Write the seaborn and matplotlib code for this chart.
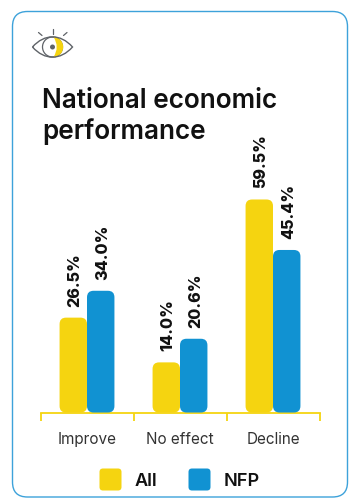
import matplotlib
matplotlib.use("Agg")
import matplotlib.pyplot as plt
from matplotlib.patches import FancyBboxPatch, Circle, PathPatch
from matplotlib.path import Path
import pandas as pd
import seaborn as sns

categories = ["Improve", "No effect", "Decline"]
all_values = [26.5, 14.0, 59.5]
nfp_values = [34.0, 20.6, 45.4]
series_names = ["All", "NFP"]
title_lines = ["National economic", "performance"]

YELLOW = "#F5D410"
BLUE = "#1192D2"
BORDER = "#3DA2DA"
INK = "#111111"
GREY = "#5F6368"
FONT = "Inter"
W, H = 352, 498

sns.set_theme(style="white")
plt.rcParams["font.family"] = [FONT, "DejaVu Sans"]

fig = plt.figure(figsize=(W / 100, H / 100), dpi=100, facecolor="white")

# Overlay in pixel units for the card, icon, title and key
bg = fig.add_axes([0, 0, 1, 1], zorder=0)
bg.set_xlim(0, W)
bg.set_ylim(H, 0)
bg.axis("off")

bg.add_patch(FancyBboxPatch((12.5, 11.5), 335, 485.5,
                            boxstyle="round,pad=0,rounding_size=15",
                            fc="white", ec=BORDER, lw=1.0))

# Eye icon
cx, cy = 52.5, 47.0
almond = Path([(cx - 20, cy), (cx - 8, cy - 13.5), (cx + 8, cy - 13.5), (cx + 20, cy),
               (cx + 8, cy + 13.5), (cx - 8, cy + 13.5), (cx - 20, cy)],
              [Path.MOVETO, Path.CURVE4, Path.CURVE4, Path.CURVE4,
               Path.CURVE4, Path.CURVE4, Path.CURVE4])
bg.add_patch(PathPatch(almond, fc="none", ec=GREY, lw=1.0, zorder=5))
bg.add_patch(Circle((cx, cy), 10, fc="white", ec=GREY, lw=0.9, zorder=2))
moon = Path([(cx + 1, cy - 10), (cx + 14, cy - 9), (cx + 14, cy + 9), (cx + 1, cy + 10),
             (cx + 7.5, cy), (cx + 1, cy - 10)],
            [Path.MOVETO, Path.CURVE4, Path.CURVE4, Path.CURVE4,
             Path.CURVE3, Path.CURVE3])
bg.add_patch(PathPatch(moon, fc=YELLOW, ec="none", zorder=3))
bg.add_patch(Circle((cx, cy), 2.5, fc=GREY, ec="none", zorder=4))
for x0, y0, x1, y1 in [(38.5, 32.5, 42, 35.5), (52.5, 29, 52.5, 34), (67, 32.5, 63.5, 35.5)]:
    bg.plot([x0, x1], [y0, y1], color=GREY, lw=0.9, solid_capstyle="round")

for line, baseline in zip(title_lines, [107.5, 138.5]):
    bg.text(42, baseline, line, fontsize=18.8, fontweight="semibold",
            color=INK, ha="left", va="baseline")

# Key
for x0, colour, name, tx in zip([99.5, 188.5], [YELLOW, BLUE], series_names, [135, 224]):
    bg.add_patch(FancyBboxPatch((x0, 468.5), 22, 22, boxstyle="round,pad=0,rounding_size=3.5",
                                fc=colour, ec="none"))
    bg.text(tx, 485.5, name, fontsize=13, fontweight="semibold", color=INK,
            ha="left", va="baseline")

# Chart area: baseline at y=412.5 px, one percentage point = 3.58 px
x_left, x_right, base_px, top_px = 40.5, 319.5, 412.5, 150.0
px_per_unit = 3.58
ax = fig.add_axes([x_left / W, 1 - base_px / H, (x_right - x_left) / W, (base_px - top_px) / H],
                  zorder=1)
ax.patch.set_alpha(0)

frame = pd.DataFrame({
    "category": categories * 2,
    "series": [series_names[0]] * 3 + [series_names[1]] * 3,
    "value": all_values + nfp_values,
})
sns.barplot(data=frame, x="category", y="value", hue="series", order=categories,
            hue_order=series_names, palette=[YELLOW, BLUE], width=0.59, gap=0,
            saturation=1, legend=False, ax=ax, errorbar=None)
ax.set_xlim(-0.5, 2.5)
ax.set_ylim(0, (base_px - top_px) / px_per_unit)

# Swap the square bars for rounded ones of the same geometry, then label them
px_per_cat = (x_right - x_left) / 3
aspect = px_per_cat / px_per_unit
for bar in list(ax.patches):
    x, w, h = bar.get_x(), bar.get_width(), bar.get_height()
    colour = bar.get_facecolor()
    bar.set_visible(False)
    ax.add_patch(FancyBboxPatch((x, 0), w, h, boxstyle=f"round,pad=0,rounding_size={6.5 / px_per_cat}",
                                mutation_aspect=aspect, fc=colour, ec="none", clip_on=False, zorder=3))
    ax.annotate(f"{h:.1f}%", (x + w / 2, h), xytext=(1.2, 8), textcoords="offset points",
                rotation=90, ha="center", va="bottom", fontsize=11.6, fontweight="heavy",
                color=INK, annotation_clip=False)

sns.despine(ax=ax, left=True)
ax.spines["bottom"].set_color(YELLOW)
ax.spines["bottom"].set_linewidth(1.3)
ax.set_xlabel("")
ax.set_ylabel("")
ax.set_yticks([])
ax.set_xticks([-0.5, 0.5, 1.5, 2.5], minor=True)
ax.tick_params(axis="x", which="minor", bottom=True, length=5.5, width=1.3, color=YELLOW, direction="out")
ax.tick_params(axis="x", which="major", bottom=False, length=0, pad=13.8, labelsize=11, labelcolor="#333333")

fig.savefig("out.png", dpi=100)
